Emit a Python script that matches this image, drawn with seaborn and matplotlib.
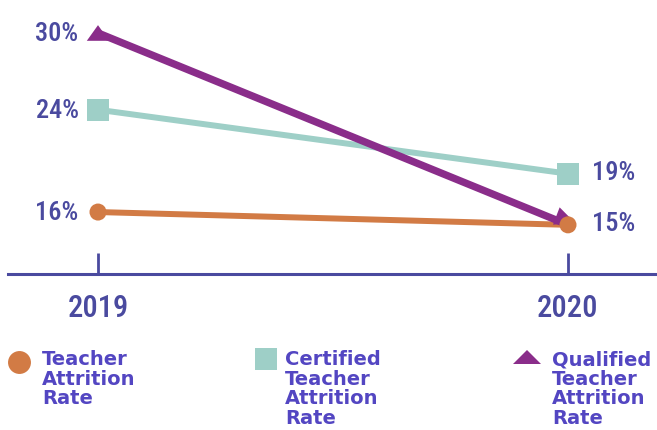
import pandas as pd
import numpy as np
import matplotlib.pyplot as plt
from matplotlib.lines import Line2D
from matplotlib.markers import MarkerStyle
from matplotlib.transforms import Affine2D
import seaborn as sns

years = [2019, 2020]
teacher_attrition = [16, 15]
certified_attrition = [24, 19]
qualified_attrition = [30, 15]
series_names = ['Teacher\nAttrition\nRate', 'Certified\nTeacher\nAttrition\nRate', 'Qualified\nTeacher\nAttrition\nRate']
value_labels = [['16%', '15%'], ['24%', '19%'], ['30%', '15%']]

colors = ['#D27B45', '#9ECFC7', '#8A2D8A']
ink = '#4A4A9F'
legend_ink = '#5346C2'
cond = ['Roboto Condensed', 'Liberation Sans Narrow', 'DejaVu Sans']

df = pd.DataFrame({
    'year': years * 3,
    'rate': teacher_attrition + certified_attrition + qualified_attrition,
    'series': np.repeat(series_names, 2),
})

sns.set_theme(style='white')
plt.rcParams['font.family'] = ['DejaVu Sans']

fig = plt.figure(figsize=(6.57, 4.31), dpi=100)
W, H = 657, 431
# axes: x from 8px to the right edge, bottom at y=275px, top at 0
ax = fig.add_axes([8 / W, 1 - 275 / H, (657 - 8) / W, 275 / H])
px = 470.0  # pixels per year
ax.set_xlim(2019 - 90 / px, 2020 + 89 / px)
ax.set_ylim(16 - (275 - 213) / 12.8, 30 + 34 / 12.8)

widths = [4.3, 4.3, 5.3]
for i in [1, 2, 0]:
    sub = df[df['series'] == series_names[i]]
    sns.lineplot(data=sub, x='year', y='rate', color=colors[i], linewidth=widths[i],
                 ax=ax, legend=False, zorder=2 + i)

# markers
teal = df[df['series'] == series_names[1]]
sns.scatterplot(data=teal, x='year', y='rate', marker='s', s=250, color=colors[1],
                edgecolor='none', ax=ax, zorder=4, legend=False)
purple = df[df['series'] == series_names[2]]
flat_tri = MarkerStyle('^', transform=Affine2D().scale(1.0, 0.7))
sns.scatterplot(data=purple[purple['year'] == 2019], x='year', y='rate', marker=flat_tri, s=260,
                color=colors[2], edgecolor='none', ax=ax, zorder=5, legend=False)
arrow = MarkerStyle('>', transform=Affine2D().scale(1.0, 0.9).rotate_deg(-21).translate(-0.1, 0.25))
sns.scatterplot(data=purple[purple['year'] == 2020], x='year', y='rate', marker=arrow, s=220,
                color=colors[2], edgecolor='none', ax=ax, zorder=5, legend=False)
orange = df[df['series'] == series_names[0]]
sns.scatterplot(data=orange, x='year', y='rate', marker='o', s=150, color=colors[0],
                edgecolor='none', ax=ax, zorder=6, legend=False)

# value labels (one label where two series share a value)
done = set()
for i, name in enumerate(series_names):
    sub = df[df['series'] == name].reset_index(drop=True)
    for j, (dx, ha) in enumerate([(-14, 'right'), (17, 'left')]):
        key = (j, value_labels[i][j])
        if key in done:
            continue
        done.add(key)
        ax.annotate(value_labels[i][j], (sub.loc[j, 'year'], sub.loc[j, 'rate']), xytext=(dx, 1 if j else 0),
                    textcoords='offset points', ha=ha, va='center', fontsize=19,
                    family=cond, fontstretch='condensed', fontweight='medium', color=ink)

sns.despine(ax=ax, left=True, top=True, right=True)
ax.spines['bottom'].set_color(ink)
ax.spines['bottom'].set_linewidth(2.2)
ax.set_yticks([])
ax.set_xticks(years)
ax.set_xticklabels([str(y) for y in years], fontsize=22, family=cond,
                   fontstretch='condensed', fontweight='medium', color=ink)
ax.tick_params(axis='x', direction='in', length=15, width=2, color=ink, pad=14, bottom=True)
ax.set_xlabel('')
ax.set_ylabel('')

# legend
leg_x = [42, 285, 552]
marker_x = [18.5, 266, 526.5]
marker_y = [363, 360, 357.5]
handles = ['o', 's', MarkerStyle('^', transform=Affine2D().scale(1.0, 0.5))]
hsize = [16.5, 15.8, 19.5]
for i, name in enumerate(series_names):
    fig.add_artist(Line2D([marker_x[i] / W], [1 - marker_y[i] / H], marker=handles[i],
                          markersize=hsize[i], color=colors[i], linestyle='none',
                          markeredgewidth=0, transform=fig.transFigure))
    fig.text(leg_x[i] / W, 1 - 350 / H, name, ha='left', va='top', fontsize=14,
             fontweight='bold', color=legend_ink, linespacing=1.04)

fig.savefig('out.png', dpi=100)
